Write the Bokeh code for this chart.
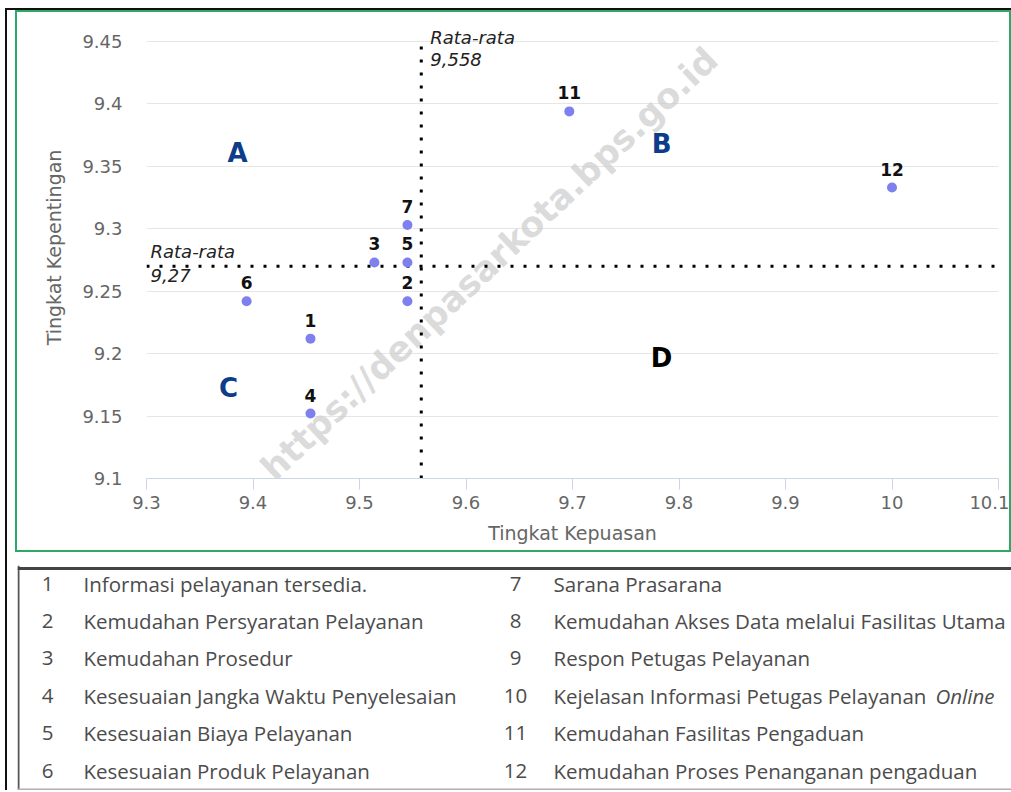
from bokeh.plotting import figure
from bokeh.models import Label, LabelSet, ColumnDataSource, FixedTicker, Range1d
from bokeh.layouts import column
from bokeh.embed import file_html
from bokeh.resources import INLINE
from bokeh.core.properties import value

# ---------------- data ----------------
point_ids = ["1", "2", "3", "4", "5", "6", "7", "11", "12"]
kepuasan = [9.454, 9.545, 9.514, 9.454, 9.545, 9.394, 9.545, 9.697, 10.0]
kepentingan = [9.212, 9.242, 9.273, 9.152, 9.273, 9.242, 9.303, 9.394, 9.333]

mean_kepuasan = 9.558
mean_kepentingan = 9.27
mean_kepuasan_text = "9,558"
mean_kepentingan_text = "9,27"

x_ticks = [9.3, 9.4, 9.5, 9.6, 9.7, 9.8, 9.9, 10.0, 10.1]
x_tick_labels = ["9.3", "9.4", "9.5", "9.6", "9.7", "9.8", "9.9", "10", "10.1"]
y_ticks = [9.1, 9.15, 9.2, 9.25, 9.3, 9.35, 9.4, 9.45]
y_tick_labels = ["9.1", "9.15", "9.2", "9.25", "9.3", "9.35", "9.4", "9.45"]

quadrant_names = ["A", "B", "C", "D"]
quadrant_x = [9.3855, 9.7836, 9.377, 9.7836]
quadrant_y = [9.361, 9.3675, 9.1728, 9.1968]
quadrant_colors = ["#0c3c8a", "#0c3c8a", "#0c3c8a", "#000000"]

table_numbers = [str(i) for i in range(1, 13)]
table_items = [
    "Informasi pelayanan tersedia.",
    "Kemudahan Persyaratan Pelayanan",
    "Kemudahan Prosedur",
    "Kesesuaian Jangka Waktu Penyelesaian",
    "Kesesuaian Biaya Pelayanan",
    "Kesesuaian Produk Pelayanan",
    "Sarana Prasarana",
    "Kemudahan Akses Data melalui Fasilitas Utama",
    "Respon Petugas Pelayanan",
    "Kejelasan Informasi Petugas Pelayanan Online",
    "Kemudahan Fasilitas Pengaduan",
    "Kemudahan Proses Penanganan pengaduan",
]
italic_words = ["Online"]


def no_align(fig):
    if "frame_align" in fig.properties():
        fig.frame_align = False


# ---------------- chart ----------------
TICK_FONT = "DejaVu Sans"
p = figure(width=992, height=538, output_backend="svg", toolbar_location=None,
           x_range=Range1d(9.3, 10.1), y_range=Range1d(9.1, 9.47),
           min_border_left=129, min_border_right=11, min_border_top=4, min_border_bottom=72)
no_align(p)
p.styles = {"outline": "2px solid #2ea866"}
p.outline_line_color = None
p.background_fill_color = "white"
p.border_fill_color = "white"

p.xaxis.ticker = FixedTicker(ticks=x_ticks)
p.xaxis.major_label_overrides = dict(zip(x_ticks, x_tick_labels))
p.yaxis.ticker = FixedTicker(ticks=y_ticks)
p.yaxis.major_label_overrides = dict(zip(y_ticks, y_tick_labels))

p.xaxis.axis_label = "Tingkat Kepuasan"
p.yaxis.axis_label = "Tingkat Kepentingan"
for ax in (p.xaxis, p.yaxis):
    ax.major_label_text_font = TICK_FONT
    ax.major_label_text_font_size = "18px"
    ax.major_label_text_color = "#666666"
    ax.axis_label_text_font = TICK_FONT
    ax.axis_label_text_font_size = "19px"
    ax.axis_label_text_font_style = "normal"
    ax.axis_label_text_color = "#666666"
    ax.minor_tick_line_color = None

p.xaxis.axis_line_color = "#ccd6eb"
p.xaxis.major_tick_line_color = "#ccd6eb"
p.xaxis.major_tick_in = 0
p.xaxis.major_tick_out = 11
p.xaxis.major_label_standoff = 6
p.xaxis.axis_label_standoff = 10

p.yaxis.axis_line_color = None
p.yaxis.major_tick_line_color = None
p.yaxis.major_tick_in = 0
p.yaxis.major_tick_out = 0
p.yaxis.major_label_standoff = 24
p.yaxis.axis_label_standoff = 14

p.xgrid.grid_line_color = None
p.ygrid.grid_line_color = "#e6e6e6"
p.ygrid.grid_line_width = 1

# watermark
wm = Label(x=9.413, y=9.104, text="https://denpasarkota.bps.go.id", angle=43.3, angle_units="deg",
           text_font="DejaVu Sans", text_font_style="bold", text_font_size="35px",
           text_color="#cfcfcf", text_alpha=0.75, text_align="left", text_baseline="alphabetic",
           level="underlay")
p.add_layout(wm)

# mean lines
p.segment(x0=[mean_kepuasan], y0=[9.1], x1=[mean_kepuasan], y1=[9.45],
          line_color="black", line_width=3, line_dash="3 10")
p.segment(x0=[9.3], y0=[mean_kepentingan], x1=[10.1], y1=[mean_kepentingan],
          line_color="black", line_width=3, line_dash="3 10")

label_kw = dict(text_font="DejaVu Sans", text_font_style="italic",
                text_font_size="18px", text_color="#222222", text_align="left",
                text_baseline="alphabetic")
p.add_layout(Label(x=mean_kepuasan, y=9.45, x_offset=9, y_offset=4, text="Rata-rata", **label_kw))
p.add_layout(Label(x=mean_kepuasan, y=9.45, x_offset=9, y_offset=-18, text=mean_kepuasan_text, **label_kw))
p.add_layout(Label(x=9.3, y=mean_kepentingan, x_offset=4, y_offset=15, text="Rata-rata", **label_kw))
p.add_layout(Label(x=9.3, y=mean_kepentingan, x_offset=4, y_offset=-9, text=mean_kepentingan_text, **label_kw))

# points
src = ColumnDataSource(dict(x=kepuasan, y=kepentingan, t=point_ids))
p.scatter("x", "y", source=src, size=10, fill_color="#7d80ee", line_color=None)
p.add_layout(LabelSet(x="x", y="y", text="t", source=src, y_offset=12,
                      text_font=value("DejaVu Sans"), text_font_style="bold",
                      text_font_size="17px", text_color="#111111",
                      text_align="center", text_baseline="alphabetic"))

# quadrant letters
qsrc = ColumnDataSource(dict(x=quadrant_x, y=quadrant_y, t=quadrant_names, c=quadrant_colors))
p.add_layout(LabelSet(x="x", y="y", text="t", source=qsrc, text_color="c",
                      text_font=value("DejaVu Sans"), text_font_style="bold",
                      text_font_size="26px", text_align="center", text_baseline="middle"))

# ---------------- table ----------------
TW, TH = 994, 225
t = figure(frame_width=TW, frame_height=TH, output_backend="svg", toolbar_location=None,
           x_range=Range1d(0, TW), y_range=Range1d(TH, 0),
           min_border=0, x_axis_type=None, y_axis_type=None)
no_align(t)
t.outline_line_color = None
t.grid.visible = False
t.segment(x0=[1, 0, 0], y0=[0, 3, TH - 1], x1=[1, TW, TW], y1=[TH, 3, TH - 1],
          line_color=["#555555", "#444444", "#b0b0b0"], line_width=[2, 3, 2])

row_y0, row_dy = 18, 37.4
num_x = [30, 498]
txt_x = [66, 536]
nx, ny, tx, ty, tt = [], [], [], [], []
ix, iy, it = [], [], []
for i, (num, item) in enumerate(zip(table_numbers, table_items)):
    col, row = divmod(i, 6)
    y = row_y0 + row_dy * row
    nx.append(num_x[col]); ny.append(y)
    words = item.split(" ")
    if words[-1] in italic_words:
        tx.append(txt_x[col]); ty.append(y); tt.append(" ".join(words[:-1]))
        ix.append(txt_x[col] + 382); iy.append(y); it.append(words[-1])
    else:
        tx.append(txt_x[col]); ty.append(y); tt.append(item)

tfont = value("Open Sans")
TFS = "20.5px"
t.text(x=nx, y=ny, text=table_numbers, text_font=tfont, text_font_size=TFS,
       text_color="#4c4c4c", text_align="center", text_baseline="middle")
t.text(x=tx, y=ty, text=tt, text_font=tfont, text_font_size=TFS,
       text_color="#4c4c4c", text_align="left", text_baseline="middle")
t.text(x=ix, y=iy, text=it, text_font=tfont, text_font_size=TFS, text_font_style="italic",
       text_color="#4c4c4c", text_align="left", text_baseline="middle")

layout = column(p, t, spacing=15,
                styles={"margin-left": "5px", "margin-top": "8px",
                        "border-left": "2px solid #111111", "border-top": "2px solid #111111",
                        "padding-left": "10px", "padding-top": "2px"})
open("out.html", "w").write(file_html(layout, INLINE))
